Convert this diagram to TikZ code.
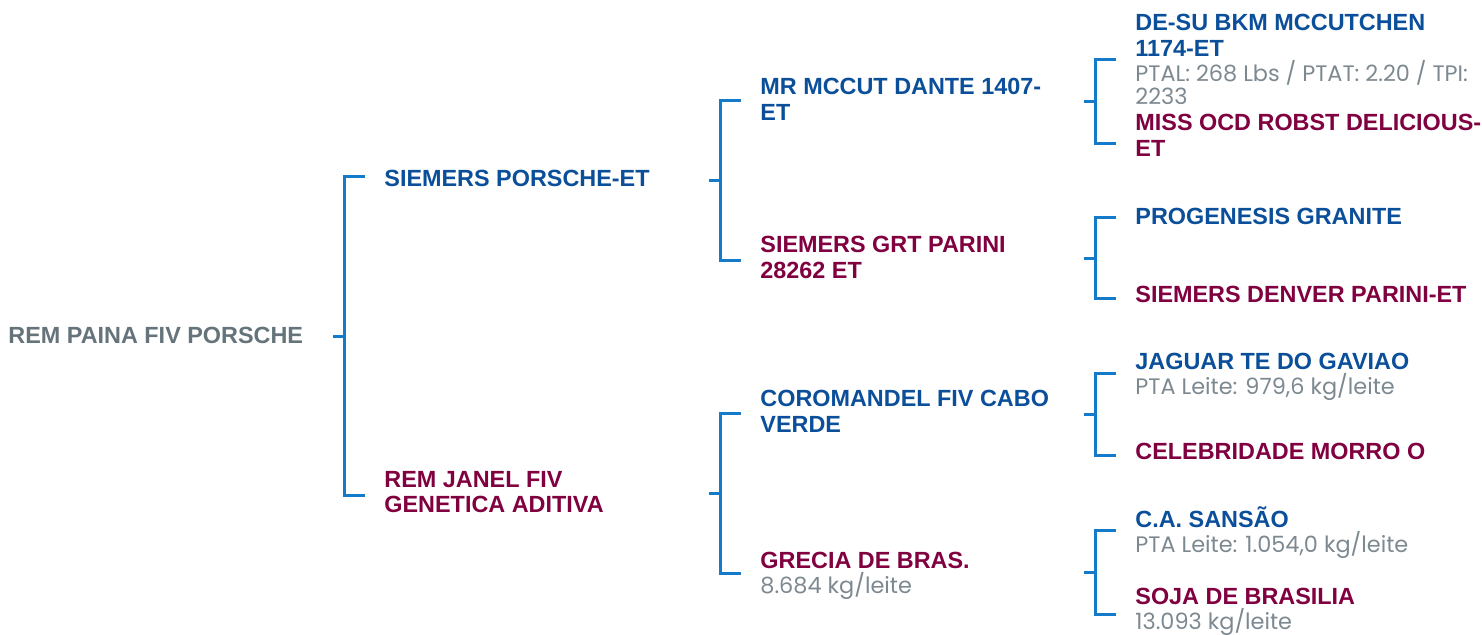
\documentclass[tikz,border=0pt]{standalone}
\usepackage{fontspec}
\setmainfont{Liberation Sans}
\newfontfamily\popfont{Poppins}
\usetikzlibrary{calc}
\definecolor{nblue}{HTML}{0B4F9A}
\definecolor{nmaroon}{HTML}{800040}
\definecolor{nroot}{HTML}{65737B}
\definecolor{nlight}{HTML}{7D8990}
\definecolor{nbr}{HTML}{137BC9}
\tikzset{
  nm/.style={anchor=base west, inner sep=0pt, align=left, font=\fontsize{11.7}{12.5}\selectfont\bfseries},
  sire/.style={nm, text=nblue},
  dam/.style={nm, text=nmaroon},
  rootname/.style={nm, text=nroot},
  br/.style={draw=nbr, line width=1.5pt},
}
\newcommand{\detl}[1]{{\popfont\mdseries\fontsize{11.2}{12}\selectfont\color{nlight}#1}}
% \brk{top child}{bottom child}{yshift top arm}{yshift bottom arm}
\newcommand{\brk}[4]{%
  \coordinate (ta) at ([yshift=#3]#1.west);
  \coordinate (ba) at ([yshift=#4]#2.west);
  \draw[br] ([xshift=-9.5pt]ta) -- ([xshift=-19.75pt]ta) -- ([xshift=-19.75pt]ba) -- ([xshift=-9.5pt]ba);
  \draw[br] ($([xshift=-19.75pt]ta)!0.5!([xshift=-19.75pt]ba)$) -- ++(-6pt,0);
}
\begin{document}
\begin{tikzpicture}[x=0.5pt,y=-0.5pt]
\useasboundingbox (0,0) rectangle (1482,635);
% root
\node[rootname] (r) at (8,344) {REM PAINA FIV PORSCHE};
% generation 1 (base = last line)
\node[sire] (s) at (384,187) {SIEMERS PORSCHE-ET};
\node[dam] (d) at (384,513) {REM JANEL FIV\\[0.5pt]GENETICA ADITIVA};
% generation 2
\node[sire] (ss) at (760,120.5) {MR MCCUT DANTE 1407-\\[0.5pt]ET};
\node[dam] (sd) at (760,279) {SIEMERS GRT PARINI\\[0.5pt]28262 ET};
\node[sire] (ds) at (760,433) {COROMANDEL FIV CABO\\[0.5pt]VERDE};
\node[dam] (dd) at (760,593) {GRECIA DE BRAS.\\\detl{8.684 kg/leite}};
% generation 3
\node[sire] (sss) at (1135,105) {DE-SU BKM MCCUTCHEN\\[0.5pt]1174-ET\\\detl{PTAL: 268 Lbs / PTAT: 2.20 / TPI:}\\[-0.75pt]\detl{2233}};
\node[dam] (ssd) at (1135,157) {MISS OCD ROBST DELICIOUS-\\[0.5pt]ET};
\node[sire] (sds) at (1135,225) {PROGENESIS GRANITE};
\node[dam] (sdd) at (1135,303) {SIEMERS DENVER PARINI-ET};
\node[sire] (dss) at (1135,395) {JAGUAR TE DO GAVIAO\\\detl{PTA Leite: 979,6 kg/leite}};
\node[dam] (dsd) at (1135,460) {CELEBRIDADE MORRO O};
\node[sire] (dds) at (1135,552.7) {C.A. SANSÃO\\\detl{PTA Leite: 1.054,0 kg/leite}};
\node[dam] (ddd) at (1135,629) {SOJA DE BRASILIA\\\detl{13.093 kg/leite}};
% brackets
\brk{s}{d}{1pt}{-1.5pt}
\brk{ss}{sd}{-0.5pt}{-1.5pt}
\brk{ds}{dd}{-1pt}{1pt}
\brk{sss}{ssd}{0pt}{-4pt}
\brk{sds}{sdd}{-0.5pt}{-2pt}
\brk{dss}{dsd}{2pt}{-2pt}
\brk{dds}{ddd}{1pt}{-1.5pt}
\end{tikzpicture}
\end{document}
